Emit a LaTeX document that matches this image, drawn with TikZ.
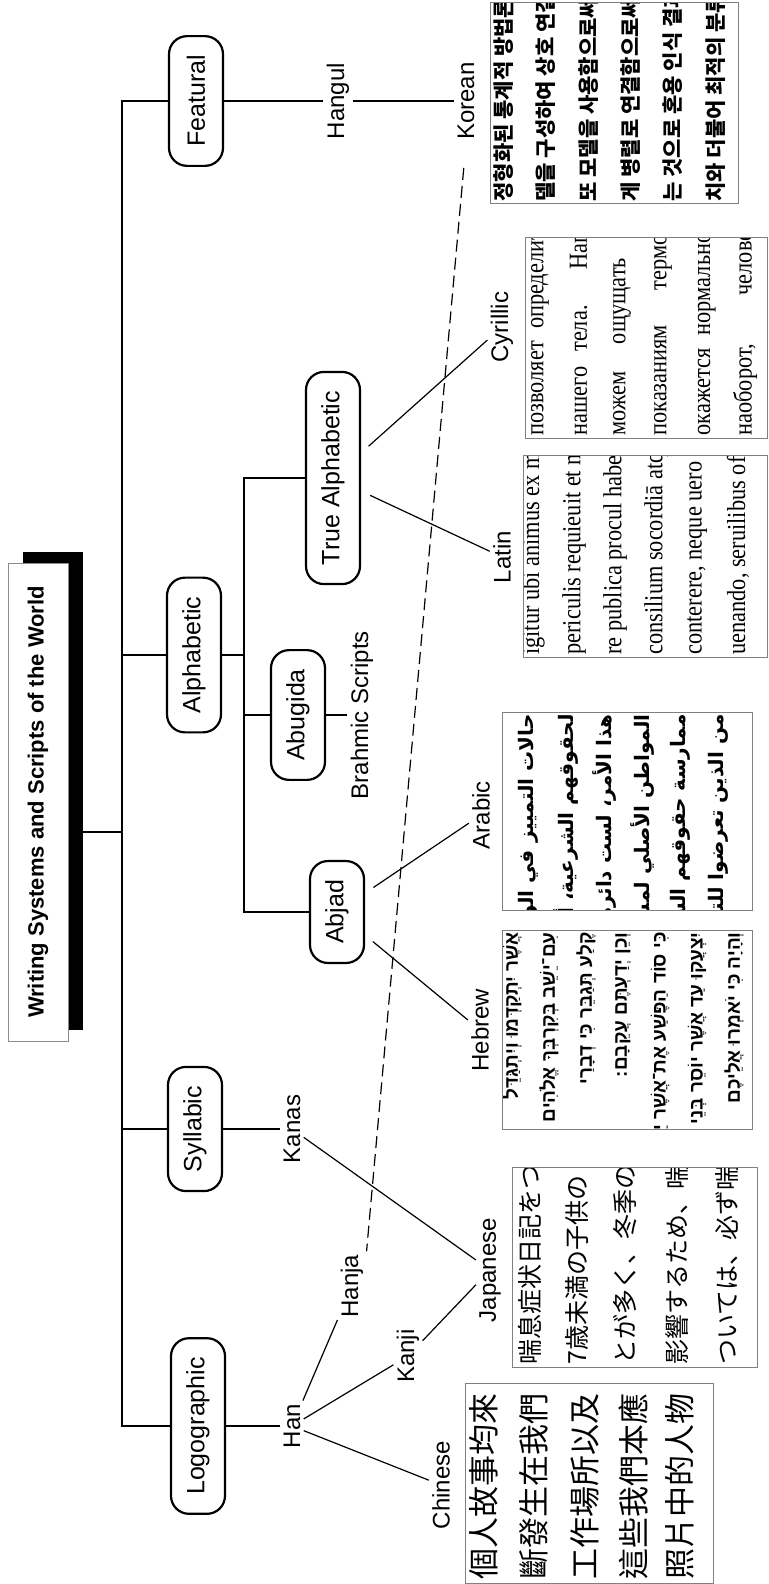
\documentclass[tikz,border=0pt]{standalone}
\usepackage{fontspec}
\setmainfont{Liberation Sans}
\newfontfamily\serifsample[FakeStretch=0.86]{Liberation Serif}
\newfontfamily\zhfont{Noto Sans CJK TC}
\newfontfamily\jafont{Noto Sans CJK JP}
\newfontfamily\kofont{Noto Sans CJK KR}
\newfontfamily\arabicfont[Script=Arabic]{DejaVu Sans}
\newfontfamily\hebrewfont[Script=Hebrew]{Liberation Sans}
\TeXXeTstate=1

\tikzset{every picture/.style={line width=0.75pt}}
\tikzset{
  treeline/.style={line width=2.2pt},
  leafline/.style={line width=1.2pt},
  dashlink/.style={line width=1.2pt,dash pattern={on 12pt off 6pt}},
  classbox/.style={draw,line width=2.2pt,rounded corners=18pt,fill=white,rotate=90,minimum height=54pt,inner xsep=19pt,font=\fontsize{25}{30}\selectfont},
  leaf/.style={rotate=90,inner sep=3pt,font=\fontsize{24}{28}\selectfont},
  titlebox/.style={draw=black!45,line width=1pt,fill=white,rotate=90,minimum width=478pt,minimum height=60pt,inner sep=0pt,font=\bfseries\fontsize{22}{26}\selectfont},
  samplebox/.style={draw=black!50,line width=1pt},
  ltrline/.style={rotate=90,anchor=west,inner sep=0pt},
  rtlline/.style={rotate=90,anchor=east,inner sep=0pt},
}

\begin{document}
\begin{tikzpicture}[x=1pt,y=1pt,yscale=-1,xscale=1]
        \useasboundingbox (0,0) rectangle (768,1584);
        \coordinate (trunk) at (122,0);
        \coordinate (subtrunk) at (244,0);
        \coordinate (titlejoin) at (0,832);

        % Title with its shadow
        \fill (23,552) rectangle (83,1030);
        \node[titlebox] (title) at (38,802) {Writing Systems and Scripts of the World};

        % Class boxes
        \node[classbox] (featural) at (196,101) {Featural};
        \node[classbox] (alphabetic) at (194,655) {Alphabetic};
        \node[classbox] (syllabic) at (195,1129) {Syllabic};
        \node[classbox] (logographic) at (198,1426) {Logographic};
        \node[classbox] (truealpha) at (333,478) {True Alphabetic};
        \node[classbox] (abugida) at (298,715) {Abugida};
        \node[classbox] (abjad) at (337,912) {Abjad};

        % Text Node
        \node[leaf] (hangul) at (338,101) {Hangul};
        \node[leaf] (korean) at (466,101) {Korean};
        \node[leaf] (kanas) at (292,1129) {Kanas};
        \node[leaf] (han) at (292,1426) {Han};
        \node[leaf] (hanja) at (352,1286) {Hanja};
        \node[leaf] (kanji) at (408,1356) {Kanji};
        \node[leaf] (chinese) at (441,1485) {Chinese};
        \node[leaf] (japanese) at (490,1270) {Japanese};
        \node[leaf] (brahmic) at (362,715) {Brahmic Scripts};
        \node[leaf] (arabic) at (481,815) {Arabic};
        \node[leaf] (hebrew) at (480,1030) {Hebrew};
        \node[leaf] (latin) at (502,557) {Latin};
        \node[leaf] (cyrillic) at (502,327) {Cyrillic};

        %Straight Lines (tree)
        \draw[treeline] (title.south |- titlejoin) -- (trunk |- titlejoin);
        \draw[treeline] (featural.north) -- (featural.north -| trunk) -- (logographic.north -| trunk) -- (logographic.north);
        \draw[treeline] (alphabetic.north) -- (alphabetic.north -| trunk);
        \draw[treeline] (syllabic.north) -- (syllabic.north -| trunk);
        \draw[treeline] (alphabetic.south) -- (alphabetic.south -| subtrunk);
        \draw[treeline] (truealpha.north) -- (truealpha.north -| subtrunk) -- (abjad.north -| subtrunk) -- (abjad.north);
        \draw[treeline] (abugida.north) -- (abugida.north -| subtrunk);

        %Straight Lines (leaves)
        \draw[leafline] (featural) -- (hangul) -- (korean);
        \draw[leafline] (syllabic) -- (kanas);
        \draw[leafline] (logographic) -- (han);
        \draw[leafline] (han) -- (hanja);
        \draw[leafline] (han) -- (kanji);
        \draw[leafline] (han) -- (chinese);
        \draw[leafline] (kanji) -- (japanese);
        \draw[leafline] (kanas) -- (japanese);
        \draw[leafline] (abugida) -- (brahmic);
        \draw[leafline,shorten <=10pt] (abjad) -- (arabic);
        \draw[leafline,shorten <=10pt] (abjad) -- (hebrew);
        \draw[leafline,shorten <=10pt] (truealpha) -- (latin);
        \draw[leafline,shorten <=10pt] (truealpha) -- (cyrillic);
        \draw[dashlink,shorten <=25pt] (korean.west) -- (hanja.south east);

        % Korean sample
        \begin{scope}
          \clip (490,3) rectangle (738,203);
          \foreach \txt [count=\i] in {정형화된 통계적 방법론, 델을 구성하여 상호 연결, 또 모델을 사용함으로써, 게 병렬로 연결함으로써, 는 것으로 혼용 인식 결과, 치와 더불어 최적의 분류}
            \node[ltrline,font=\kofont\bfseries\fontsize{21}{24}\selectfont] (kor\i) at ({461+42.4*\i},202) {\txt};
        \end{scope}
        \draw[samplebox] (490,3) rectangle (738,203);

        % Cyrillic sample
        \begin{scope}
          \clip (525,237) rectangle (767,438);
          \foreach \txt [count=\i] in {позволяет определить, нашего тела. Напр, можем ощущать с, показаниям термом, окажется нормальной, {наоборот, человек}}
            \node[ltrline,font=\serifsample\fontsize{26}{29}\selectfont] (cyr\i) at ({499+41*\i},436) {\makebox[215pt][s]{\txt}};
        \end{scope}
        \draw[samplebox] (525,237) rectangle (767,438);

        % Latin sample
        \begin{scope}
          \clip (523,455) rectangle (767,657);
          \foreach \txt [count=\i] in {igitur ubi animus ex multis, periculis requieuit et mihi, re publica procul habendam, consilium socordiā atque, {conterere, neque uero agrum}, {uenando, seruilibus officiis}}
            \node[ltrline,font=\serifsample\fontsize{26}{29}\selectfont] (lat\i) at ({492+41*\i},655) {\txt};
        \end{scope}
        \draw[samplebox] (523,455) rectangle (767,657);

        % Arabic sample
        \begin{scope}
          \clip (502,712) rectangle (752,910);
          \foreach \txt [count=\i] in {حالات التمييز في الولايات, لحقوقهم الشرعية، أو لم, هذا الأمر، لست دائرة, المواطن الأصلي لمساواة, ممارسة حقوقهم الشرعية, من الذين تعرضوا للتمييز}
            \node[rtlline,font=\arabicfont\bfseries\fontsize{20}{24}\selectfont] (ara\i) at ({490+38*\i},714) {\beginR\txt\endR};
        \end{scope}
        \draw[samplebox] (502,712) rectangle (752,910);

        % Hebrew sample
        \begin{scope}
          \clip (502,930) rectangle (752,1129);
          \foreach \txt [count=\i] in {אֲשֶׁר יִתְקַדְּמוּ וְיִתְגַּדֵּל, עִם־יֵשֵׁב בְּקִרְבְּךָ אֱלֹהִים, קֶלַע תְּגַבֵּר כִּי דְבָרַי, וְכֵן יְדַעְתֶּם עֲקֵבָם:, כִּי סוֹד הַפֶּשַׁע אֶת־אֲשֶׁר יַעֲשׂוּ, יִצְעֲקוּ עַד אֲשֶׁר יוֹסֵר בְּנֵי, וְהָיָה כִּי יֹאמְרוּ אֲלֵיכֶם}
            \node[rtlline,font=\hebrewfont\bfseries\fontsize{19}{22}\selectfont] (heb\i) at ({475+37*\i},932) {\beginR\txt\endR};
        \end{scope}
        \draw[samplebox] (502,930) rectangle (752,1129);

        % Japanese sample
        \begin{scope}
          \clip (512,1167) rectangle (757,1367);
          \foreach \txt/\xc [count=\i] in {喘息症状日記をつけ/530, 7歳未満の子供の/577, とが多く、冬季のお/625, 影響するため、喘/677, ついては、必ず喘/727}
            \node[ltrline,font=\jafont\fontsize{25}{28}\selectfont] (jpn\i) at (\xc,1365) {\txt};
        \end{scope}
        \draw[samplebox] (512,1167) rectangle (757,1367);

        % Chinese sample
        \begin{scope}
          \clip (465,1383) rectangle (713,1583);
          \foreach \txt/\xc [count=\i] in {個人故事均來/484, 斷發生在我們/534, 工作場所以及/585, 這些我們本應/633, 照片中的人物/680}
            \node[ltrline,font=\zhfont\fontsize{31}{34}\selectfont] (chn\i) at (\xc,1580) {\txt};
        \end{scope}
        \draw[samplebox] (465,1383) rectangle (713,1583);

    \end{tikzpicture}
\end{document}
